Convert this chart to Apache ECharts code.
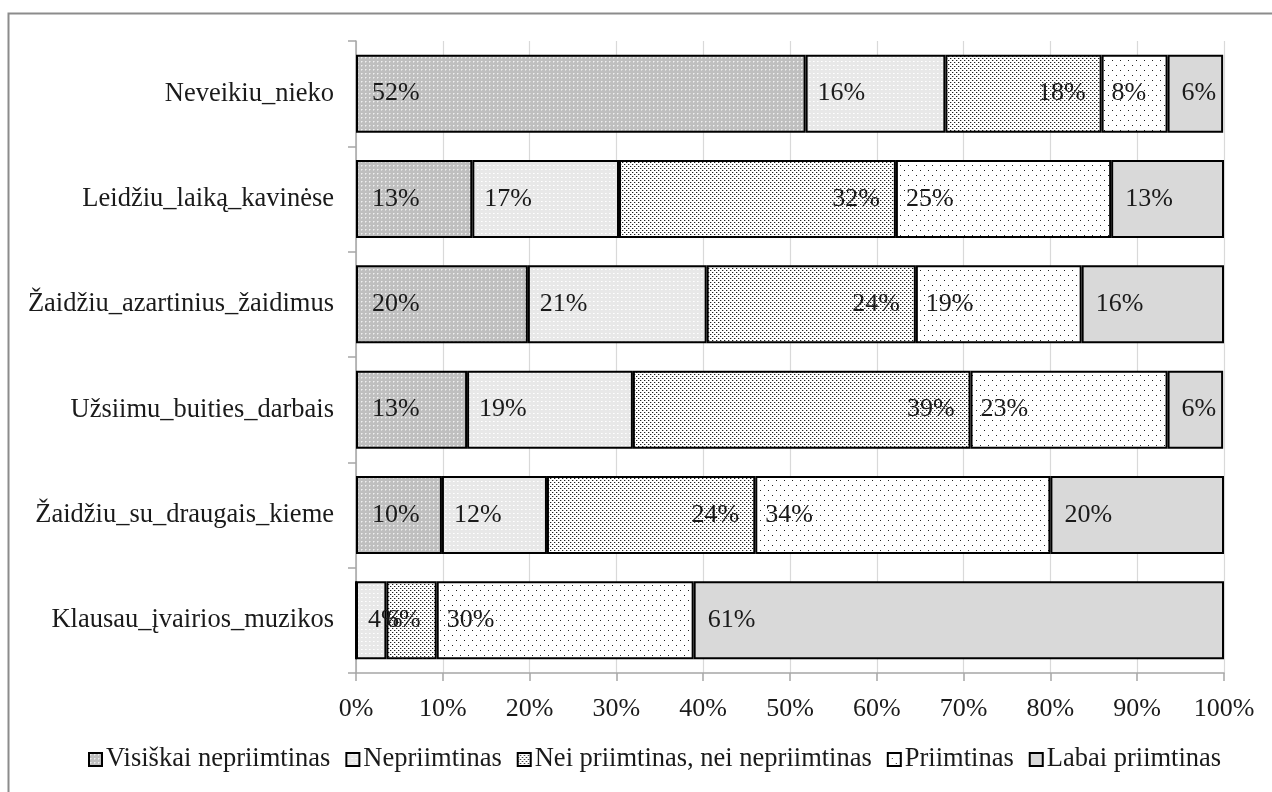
<!DOCTYPE html>
<html>
<head>
<meta charset="utf-8">
<script src="https://cdn.jsdelivr.net/npm/echarts@6/dist/echarts.min.js"></script>
<style>
html,body{margin:0;padding:0;background:#fff;}
#chart{width:1272px;height:792px;}
</style>
</head>
<body>
<div id="chart"></div>
<script>
var categories = ["Neveikiu_nieko", "Leidžiu_laiką_kavinėse", "Žaidžiu_azartinius_žaidimus", "Užsiimu_buities_darbais", "Žaidžiu_su_draugais_kieme", "Klausau_įvairios_muzikos"];
var seriesNames = ["Visiškai nepriimtinas", "Nepriimtinas", "Nei priimtinas, nei nepriimtinas", "Priimtinas", "Labai priimtinas"];
var visiskaiNepriimtinas = [51.8, 13.4, 19.8, 12.8, 9.9, 0];
var nepriimtinas = [16.1, 16.9, 20.6, 19.1, 12.1, 3.5];
var neiPriimtinas = [18.0, 31.9, 24.1, 38.9, 24.0, 5.8];
var priimtinas = [7.6, 24.8, 19.1, 22.7, 34.0, 29.6];
var labaiPriimtinas = [6.4, 13.0, 16.4, 6.4, 20.0, 61.1];
var xTicks = [0, 10, 20, 30, 40, 50, 60, 70, 80, 90, 100];

function makePattern(w, h, bg, dots) {
  var c = document.createElement('canvas');
  c.width = w; c.height = h;
  var ctx = c.getContext('2d');
  ctx.fillStyle = bg; ctx.fillRect(0, 0, w, h);
  dots.forEach(function (d) { ctx.fillStyle = d[2]; ctx.fillRect(d[0], d[1], d[3] || 1, d[4] || 1); });
  return { image: c, repeat: 'repeat' };
}
var pat1 = makePattern(4, 4, '#bfbfbf', [[1, 1, '#f0f0f0'], [2, 1, '#d8d8d8'], [1, 2, '#d8d8d8']]);
var pat2 = makePattern(4, 4, '#e8e8e8', [[1, 1, '#ffffff'], [2, 1, '#f6f6f6']]);
var pat3 = makePattern(4, 4, '#ffffff', [[0, 0, '#222222'], [2, 2, '#222222'], [1, 0, '#bbbbbb'], [3, 2, '#bbbbbb']]);
var pat4 = makePattern(8, 10, '#ffffff', [[0, 0, '#222222'], [4, 5, '#222222']]);
var pat5 = '#d9d9d9';

var fills = [pat1, pat2, pat3, pat4, pat5];
var positions = [
  { position: 'insideLeft', distance: 16 },
  { position: 'insideLeft', distance: 12 },
  { position: 'insideRight', distance: 16 },
  { position: 'insideLeft', distance: 10 },
  { position: 'insideLeft', distance: 14 }
];
var dataSets = [visiskaiNepriimtinas, nepriimtinas, neiPriimtinas, priimtinas, labaiPriimtinas];
var FONT = '"Liberation Serif", "Times New Roman", serif';

var series = dataSets.map(function (arr, i) {
  return {
    name: seriesNames[i],
    type: 'bar',
    stack: 'total',
    barWidth: '74%',
    data: arr,
    itemStyle: { color: fills[i], borderColor: '#000', borderWidth: 2 },
    label: {
      show: true,
      position: positions[i].position,
      distance: positions[i].distance,
      fontFamily: FONT,
      fontSize: 26,
      color: '#1a1a1a',
      formatter: function (p) { return p.value > 0 ? Math.round(p.value) + '%' : ''; }
    },
    emphasis: { disabled: true },
    animation: false
  };
});

var chart = echarts.init(document.getElementById('chart'), null, { renderer: 'canvas' });
chart.setOption({
  backgroundColor: '#ffffff',
  animation: false,
  graphic: [{
    type: 'rect', left: 6, top: 11, z: -10,
    shape: { width: 1300, height: 820 },
    style: { fill: 'none', stroke: '#8c8c8c', lineWidth: 2 }
  }],
  grid: { left: 356, right: 48, top: 41, bottom: 119, containLabel: false },
  legend: {
    bottom: 14,
    left: 83,
    itemWidth: 13,
    itemHeight: 13,
    itemGap: 15,
    icon: 'rect',
    textStyle: { fontFamily: FONT, fontSize: 26.5, color: '#1a1a1a', padding: [0, 0, 0, -1] },
    data: seriesNames
  },
  xAxis: {
    type: 'value',
    min: xTicks[0],
    max: xTicks[xTicks.length - 1],
    interval: xTicks[1] - xTicks[0],
    axisLine: { show: true, lineStyle: { color: '#a6a6a6', width: 1.5 } },
    axisTick: { show: true, length: 8, lineStyle: { color: '#a6a6a6', width: 1.5 } },
    splitLine: { show: true, lineStyle: { color: '#d9d9d9', width: 1.2 } },
    axisLabel: { fontFamily: FONT, fontSize: 26, color: '#1a1a1a', margin: 23, formatter: '{value}%' }
  },
  yAxis: {
    type: 'category',
    inverse: true,
    data: categories,
    axisLine: { show: true, lineStyle: { color: '#a6a6a6', width: 1.5 } },
    axisTick: { show: true, length: 8, lineStyle: { color: '#a6a6a6', width: 1.5 } },
    axisLabel: { fontFamily: FONT, fontSize: 26.5, color: '#1a1a1a', margin: 22 }
  },
  series: series
});
</script>
</body>
</html>
